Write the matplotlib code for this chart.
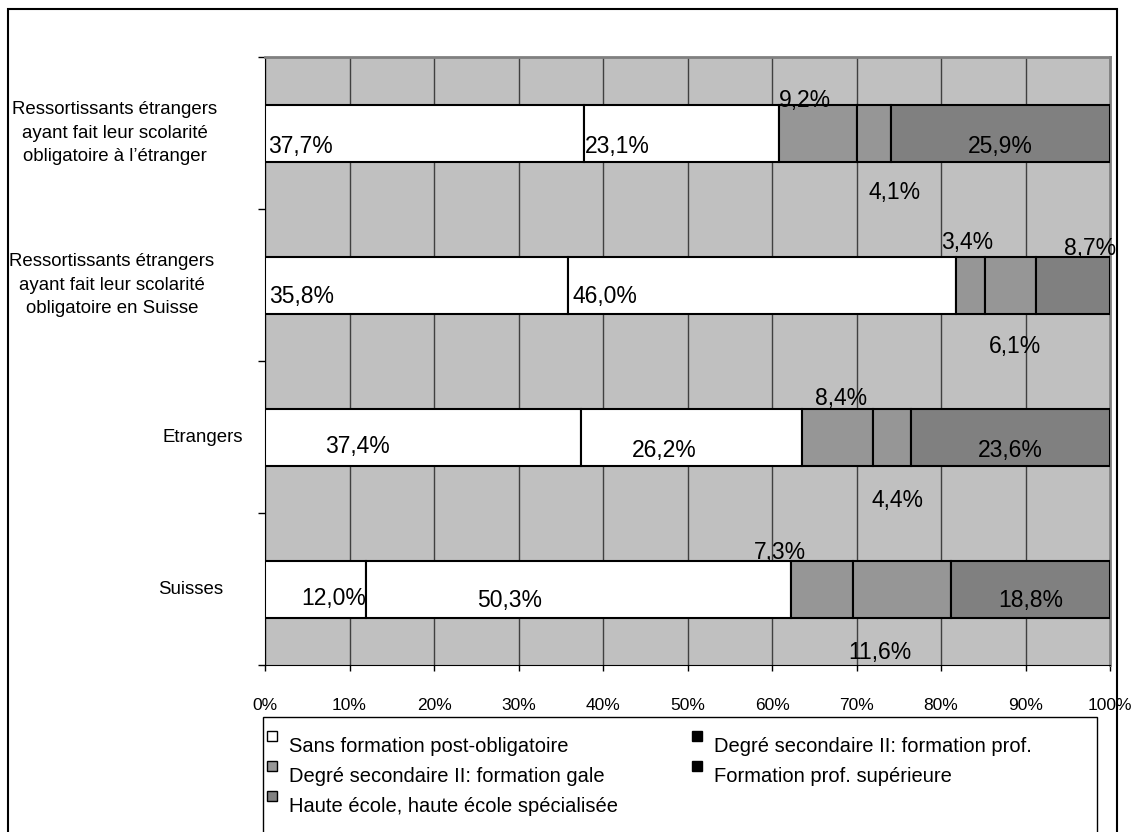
import numpy as np
import matplotlib
matplotlib.use('Agg')
import matplotlib.pyplot as plt
from matplotlib.patches import Rectangle
from matplotlib.transforms import blended_transform_factory

plt.rcParams['font.family'] = ['Liberation Sans', 'DejaVu Sans']

# 데이터 (아래에서 위로: Suisses -> Ressortissants ... à l'étranger)
categories = [
    'Suisses',
    'Etrangers',
    'Ressortissants étrangers\nayant fait leur scolarité\nobligatoire en Suisse',
    'Ressortissants étrangers\nayant fait leur scolarité\nobligatoire à l\u2019étranger',
]
series_names = [
    'Sans formation post-obligatoire',
    'Degré secondaire II: formation prof.',
    'Degré secondaire II: formation gale',
    'Formation prof. supérieure',
    'Haute école, haute école spécialisée',
]
sans_formation = [12.0, 37.4, 35.8, 37.7]
sec_prof = [50.3, 26.2, 46.0, 23.1]
sec_gale = [7.3, 8.4, 3.4, 9.2]
prof_sup = [11.6, 4.4, 6.1, 4.1]
haute_ecole = [18.8, 23.6, 8.7, 25.9]
x_ticks = [0, 10, 20, 30, 40, 50, 60, 70, 80, 90, 100]

# 스타일
bar_colors = ['white', 'white', '#969696', '#969696', '#808080']
legend_colors = ['white', 'black', '#969696', 'black', '#808080']
# 라벨 위치 보정 (x: %, y: 픽셀, 아래쪽 +)
label_dx = [
    [2.1, -8.2, -5.0, -2.6, 0.0],
    [-7.8, -3.2, 0.4, 0.6, 0.0],
    [-13.6, -18.6, -0.4, 0.5, 2.0],
    [-14.6, -7.6, -1.5, 2.4, 0.0],
]
label_dy = [
    [10, 12, -37, 63, 12],
    [10, 14, -38, 63, 14],
    [11, 11, -42, 62, -36],
    [14, 14, -33, 60, 13],
]
cat_label_x = [191, 203, 112, 115]  # 픽셀 중심

W, H = 1133, 832
fig = plt.figure(figsize=(W / 100, H / 100), dpi=100)

def px(x, y):
    return x / W, 1 - y / H

# 바깥 테두리
fig.patches.append(Rectangle(px(8, 845), (1117 - 8) / W, (845 - 9) / H,
                             transform=fig.transFigure, fill=False,
                             edgecolor='black', lw=1.5, zorder=0))

ax = fig.add_axes([265 / W, 1 - 665 / H, (1110 - 265) / W, (665 - 57) / H])
ax.set_facecolor('#C0C0C0')

data = np.array([sans_formation, sec_prof, sec_gale, prof_sup, haute_ecole])
y = np.arange(len(categories))
left = np.zeros(len(categories))
bar_h = 0.375
unit_px = (665 - 57) / 4.0

for i in range(len(series_names)):
    ax.barh(y, data[i], left=left, height=bar_h, color=bar_colors[i],
            edgecolor='black', linewidth=1.5, zorder=3)
    for j in range(len(categories)):
        xc = left[j] + data[i][j] / 2 + label_dx[j][i]
        yc = y[j] - label_dy[j][i] / unit_px
        ax.text(xc, yc, f'{data[i][j]:.1f}%'.replace('.', ','),
                ha='center', va='center', fontsize=16.5, color='black', zorder=5)
    left = left + data[i]

ax.set_xlim(0, 100)
ax.set_ylim(-0.5, 3.5)
ax.set_xticks(x_ticks)
ax.set_xticklabels([f'{t}%' for t in x_ticks], fontsize=12.5)
ax.tick_params(axis='x', direction='out', length=4, width=1, pad=20)
ax.grid(axis='x', color='#404040', linewidth=1, zorder=1)

ax.set_yticks(y)
ax.set_yticklabels([])
ax.tick_params(axis='y', which='major', length=0)
ax.set_yticks(np.arange(-0.5, 4.0, 1.0), minor=True)
ax.tick_params(axis='y', which='minor', direction='out', length=5, width=1)

cat_trans = blended_transform_factory(fig.transFigure, ax.transData)
for j, cat in enumerate(categories):
    fx, _ = px(cat_label_x[j], 0)
    ax.text(fx, y[j], cat, transform=cat_trans,
            ha='center', va='center', multialignment='center', fontsize=13.4,
            linespacing=1.5)

ax.spines['left'].set_color('black')
ax.spines['bottom'].set_color('black')
ax.spines['top'].set_color('#808080')
ax.spines['right'].set_color('#808080')
for s in ['top', 'right']:
    ax.spines[s].set_linewidth(2)

# 범례 (수동)
fig.patches.append(Rectangle(px(263, 845), (1097 - 263) / W, (845 - 717) / H,
                             transform=fig.transFigure, facecolor='white',
                             edgecolor='black', lw=1, zorder=2))
legend_pos = [(272, 745), (697, 745), (272, 775), (697, 775), (272, 805)]
for k in range(len(series_names)):
    lx, ly = legend_pos[k]
    fig.patches.append(Rectangle(px(lx - 5, ly - 4), 10 / W, 10 / H,
                                 transform=fig.transFigure,
                                 facecolor=legend_colors[k], edgecolor='black',
                                 lw=1, zorder=3))
    tx, ty = px(lx + 17, ly + 2)
    fig.text(tx, ty, series_names[k], ha='left', va='center', fontsize=14.5, zorder=4)

fig.savefig('out.png', dpi=100)
